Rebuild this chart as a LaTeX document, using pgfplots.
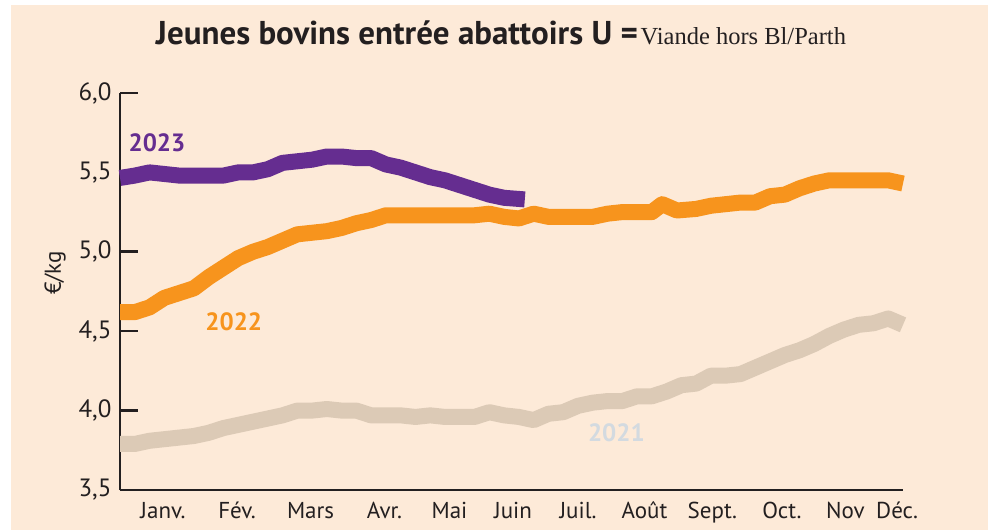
\documentclass[border=0pt]{standalone}
\usepackage{fontspec}
\setmainfont{PT Sans}
\newfontfamily\seriffont{Liberation Serif}
\usepackage{pgfplots}
\pgfplotsset{compat=1.18}
\definecolor{peach}{HTML}{FDEAD8}
\definecolor{ink}{HTML}{231F20}
\definecolor{c2023}{HTML}{652D90}
\definecolor{c2022}{HTML}{F7941D}
\definecolor{c2021}{HTML}{DCCAB6}
\definecolor{lab2021}{HTML}{D3DAE0}

% weekly prices, week 0..53
\pgfplotstableread{
w v
0 5.465
1 5.48
2 5.50
3 5.49
4 5.48
5 5.48
6 5.48
7 5.48
8 5.50
9 5.50
10 5.52
11 5.56
12 5.57
13 5.58
14 5.60
15 5.60
16 5.59
17 5.59
18 5.55
19 5.53
20 5.50
21 5.47
22 5.45
23 5.42
24 5.39
25 5.36
26 5.34
27.4 5.33
}\yeartwentythree

\pgfplotstableread{
w v
0 4.62
1 4.62
2 4.65
3 4.71
4 4.74
5 4.77
6 4.84
7 4.90
8 4.96
9 5.00
10 5.03
11 5.07
12 5.11
13 5.12
14 5.13
15 5.15
16 5.18
17 5.20
18 5.23
19 5.23
20 5.23
21 5.23
22 5.23
23 5.23
24 5.23
25 5.24
26 5.22
27 5.21
28 5.24
29 5.22
30 5.22
31 5.22
32 5.22
33 5.24
34 5.25
35 5.25
36 5.25
36.7 5.30
37.7 5.26
39 5.27
40 5.29
41 5.30
42 5.31
43 5.31
44 5.35
45 5.36
46 5.40
47 5.43
48 5.45
49 5.45
50 5.45
51 5.45
52 5.45
53 5.43
}\yeartwentytwo

\pgfplotstableread{
w v
0 3.79
1 3.79
2 3.81
3 3.82
4 3.83
5 3.84
6 3.86
7 3.89
8 3.91
9 3.93
10 3.95
11 3.97
12 4.00
13 4.00
14 4.01
15 4.00
16 4.00
17 3.97
18 3.97
19 3.97
20 3.96
21 3.97
22 3.96
23 3.96
24 3.96
25 3.99
26 3.97
27 3.96
28 3.94
29 3.98
30 3.99
31 4.03
32 4.05
33 4.06
34 4.06
35 4.09
36 4.09
37 4.12
38 4.16
39 4.17
40 4.22
41 4.22
42 4.23
43 4.27
44 4.31
45 4.35
46 4.38
47 4.42
48 4.47
49 4.51
50 4.54
51 4.55
52 4.58
53 4.54
}\yeartwentyone

\begin{document}
\begin{tikzpicture}[x=1pt,y=1pt]
\path[use as bounding box] (0,0) rectangle (988,530);
\fill[white] (0,0) rectangle (988,530);
\fill[peach] (11,0) rectangle (988,525);

% title
\node[anchor=base, text=ink, inner sep=0pt] at (501,485)
  {{\bfseries\fontsize{33}{33}\selectfont Jeunes bovins entrée abattoirs U =}
   {\seriffont\fontsize{24.5}{25}\selectfont Viande hors Bl/Parth}};

% unit
\node[rotate=90, text=ink, font=\fontsize{23}{23}\selectfont] at (55,257) {€/kg};

\begin{axis}[
  at={(120pt,40pt)}, anchor=south west,
  scale only axis, width=783pt, height=397pt,
  xmin=0, xmax=53, ymin=3.5, ymax=6.0,
  clip=false,
  axis lines*=left,
  axis line style={ink, line width=2.6pt},
  tick align=inside,
  major tick length=18pt,
  minor tick length=9pt,
  ytick={3.5,4.0,4.5,5.0,5.5,6.0},
  y tick style={ink, line width=2.6pt},
  xtick=\empty,
  minor xtick={0,...,53},
  minor x tick style={ink, line width=2.2pt},
  extra x ticks={2.91,7.92,12.9,17.9,22.3,26.6,31.0,35.5,40.1,44.8,49.1,52.6},
  extra x tick labels={Janv.,Fév.,Mars,Avr.,Mai,Juin,Juil.,Août,Sept.,Oct.,Nov,Déc.},
  extra x tick style={tick style={draw=none}},
  xticklabel style={font=\fontsize{23}{23}\selectfont, text=ink, yshift=-9pt,
    text height=16pt, text depth=5pt},
  yticklabel style={font=\fontsize{25}{25}\selectfont, text=ink, xshift=-5pt},
  /pgf/number format/.cd, use comma, fixed, fixed zerofill, precision=1,
  assume math mode=true,
  /pgfplots/.cd,
  every axis plot/.append style={line width=16pt, line join=round},
]
\addplot[c2021, no marks] table[x=w, y=v] {\yeartwentyone};
\addplot[c2022, no marks] table[x=w, y=v] {\yeartwentytwo};
\addplot[c2023, no marks] table[x=w, y=v] {\yeartwentythree};

\node[text=c2023, font=\bfseries\fontsize{25}{25}\selectfont] at (axis cs:2.5,5.686) {2023};
\node[text=c2022, font=\bfseries\fontsize{25}{25}\selectfont] at (axis cs:7.7,4.56) {2022};
\node[text=lab2021, font=\bfseries\fontsize{25}{25}\selectfont] at (axis cs:33.6,3.86) {2021};
\end{axis}
\end{tikzpicture}
\end{document}
